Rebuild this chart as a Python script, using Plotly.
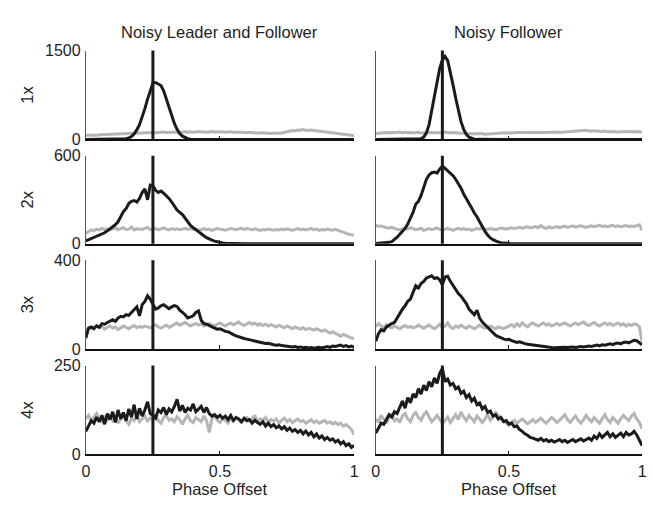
import plotly.graph_objects as go

phase = [i / 100 for i in range(101)]
col_titles = ["Noisy Leader and Follower", "Noisy Follower"]
row_labels = ["1x", "2x", "3x", "4x"]
y_max = [1500, 600, 400, 250]
x_ticks = [0, 0.5, 1]
x_tick_text = ["0", "0.5", "1"]
marker_phase = [0.25]
x_title = "Phase Offset"

# ---- Row 1 (1x) ----
lf1_black = [0]*13 + [2, 6, 12, 25, 50, 95, 160, 250, 370, 520, 680, 820, 950, 960, 930, 910, 820, 680,
                      540, 400, 270, 170, 100, 55, 28, 12, 5, 2] + [0]*60
lf1_gray = [70, 65, 72, 75, 70, 78, 80, 76, 85, 82, 90,
            88, 95, 92, 100, 96, 105, 100, 98, 110, 105,
            112, 108, 115, 110, 118, 112, 120, 115, 125, 118,
            122, 128, 120, 126, 118, 124, 130, 122, 128, 120,
            126, 132, 125, 130, 122, 128, 135, 126, 130, 124,
            128, 122, 126, 130, 120, 124, 118, 122, 115, 118,
            112, 118, 110, 115, 108, 112, 105, 110, 102, 108,
            100, 105, 110, 118, 125, 140, 150, 145, 160, 155,
            165, 150, 160, 158, 150, 145, 140, 135, 130, 125,
            120, 118, 112, 108, 100, 95, 88, 80, 72, 62, 50]
f1_black = [0]*17 + [10, 40, 110, 250, 480, 750, 1000, 1200, 1340, 1400, 1330, 1150, 920, 700, 480,
                     300, 170, 85, 38, 15, 5, 1] + [0]*62
f1_gray = [100, 105, 98, 110, 115, 108, 120, 112, 118, 125, 115,
           120, 112, 118, 110, 115, 120, 108, 112, 118, 122,
           115, 110, 118, 112, 120, 125, 118, 110, 115, 108,
           112, 105, 110, 100, 95, 100, 92, 98, 90, 95,
           88, 92, 98, 95, 100, 105, 102, 108, 112, 110,
           115, 112, 118, 115, 120, 118, 115, 120, 118, 122,
           118, 125, 120, 115, 118, 122, 120, 125, 118, 122,
           128, 125, 130, 135, 132, 140, 145, 150, 155, 148,
           140, 145, 138, 142, 135, 140, 130, 135, 128, 132,
           125, 130, 135, 128, 132, 125, 130, 135, 128, 120, 95]

# ---- Row 2 (2x) ----
lf2_black = [20, 28, 35, 42, 50, 58, 68, 75, 88, 100,
             118, 130, 150, 185, 220, 240, 275, 290, 295, 285,
             310, 350, 375, 300, 400, 395, 365, 350, 360, 345,
             330, 310, 285, 260, 230, 215, 200, 175, 150, 125,
             110, 95, 80, 65, 55, 42, 32, 25, 18, 12,
             8, 5, 3, 2] + [1]*47
lf2_gray = [70, 85, 95, 90, 100, 95, 105, 98, 102, 95,
            100, 108, 96, 104, 110, 98, 100, 115, 95, 102,
            100, 98, 105, 112, 96, 100, 104, 95, 102, 108,
            100, 95, 104, 98, 102, 96, 100, 106, 98, 104,
            96, 100, 92, 98, 104, 96, 100, 92, 98, 104,
            100, 96, 92, 98, 104, 100, 96, 102, 106, 98,
            104, 100, 96, 102, 98, 92, 98, 94, 100, 96,
            92, 98, 94, 100, 96, 102, 96, 92, 98, 104,
            96, 100, 94, 98, 104, 96, 100, 92, 98, 94,
            100, 96, 92, 98, 90, 85, 80, 72, 65, 62, 60]
f2_black = [2, 3, 4, 5, 7, 10, 15, 28, 45, 65,
            85, 105, 135, 170, 215, 270, 290, 330, 390, 440,
            470, 485, 490, 482, 510, 530, 515, 500, 485, 465,
            440, 410, 380, 340, 310, 280, 245, 210, 185, 150,
            115, 85, 60, 40, 28, 18, 12, 8, 5, 3,
            2] + [1]*50
f2_gray = [125, 120, 122, 115, 110, 108, 112, 105, 100, 95,
           102, 108, 100, 110, 104, 96, 100, 106, 92, 98,
           104, 96, 100, 108, 98, 94, 100, 104, 98, 92,
           100, 106, 98, 104, 96, 100, 92, 98, 104, 100,
           108, 102, 98, 104, 100, 96, 102, 108, 104, 100,
           106, 110, 104, 108, 112, 106, 110, 116, 108, 112,
           118, 110, 124, 112, 104, 116, 108, 112, 118, 110,
           114, 120, 112, 116, 122, 114, 118, 124, 116, 112,
           118, 122, 116, 120, 126, 118, 122, 116, 120, 126,
           118, 122, 116, 120, 124, 118, 122, 118, 124, 130, 90]

# ---- Row 3 (3x) ----
lf3_black = [50, 95, 100, 92, 105, 98, 115, 112, 120, 128,
             132, 125, 140, 148, 145, 155, 152, 165, 178, 190,
             150, 200, 215, 240, 225, 200, 180, 185, 195, 200,
             190, 182, 190, 196, 192, 175, 165, 155, 140, 145,
             150, 165, 172, 130, 115, 112, 105, 100, 95, 90,
             92, 85, 80, 78, 70, 65, 60, 55, 52, 48,
             45, 42, 38, 35, 32, 30, 28, 25, 26, 22,
             20, 18, 20, 16, 14, 15, 12, 10, 12, 8,
             10, 6, 8, 5, 7, 4, 6, 8, 5, 10,
             12, 8, 14, 12, 15, 18, 12, 16, 10, 14, 8]
lf3_gray = [80, 95, 92, 100, 105, 96, 102, 90, 98, 104,
            95, 100, 88, 96, 104, 98, 92, 100, 106, 96,
            102, 98, 104, 100, 96, 104, 110, 100, 95, 102,
            108, 98, 104, 112, 118, 108, 114, 120, 112, 104,
            110, 116, 108, 114, 104, 110, 116, 108, 104, 112,
            118, 110, 104, 112, 118, 110, 116, 122, 112, 106,
            114, 120, 112, 118, 108, 114, 106, 112, 104, 110,
            106, 100, 108, 102, 96, 104, 98, 92, 100, 94,
            90, 96, 88, 94, 90, 86, 92, 84, 80, 86,
            78, 72, 78, 70, 62, 58, 66, 60, 55, 50, 48]
f3_black = [35, 70, 88, 82, 100, 108, 115, 120, 140, 165,
            180, 195, 215, 225, 260, 285, 275, 295, 305, 320,
            325, 330, 318, 322, 312, 290, 325, 328, 305, 285,
            270, 250, 238, 220, 205, 180, 165, 155, 175, 140,
            122, 110, 95, 85, 72, 62, 56, 50, 46, 42,
            44, 38, 35, 30, 33, 28, 25, 22, 20, 18,
            16, 14, 12, 10, 9, 8, 7, 6, 7, 8,
            6, 8, 7, 9, 10, 8, 11, 12, 10, 13,
            14, 12, 16, 18, 15, 20, 18, 22, 24, 20,
            26, 28, 24, 30, 32, 28, 35, 40, 38, 30, 20]
f3_gray = [100, 115, 105, 95, 110, 100, 96, 104, 98, 92,
           100, 106, 98, 102, 96, 100, 108, 100, 94, 102,
           108, 98, 92, 100, 112, 96, 104, 118, 100, 92,
           104, 98, 108, 100, 94, 104, 98, 92, 100, 108,
           100, 94, 98, 104, 98, 92, 100, 96, 92, 98,
           104, 110, 100, 115, 104, 118, 108, 100, 112, 118,
           110, 104, 112, 118, 108, 114, 104, 110, 116, 108,
           112, 118, 110, 104, 112, 118, 110, 116, 122, 112,
           106, 114, 120, 110, 104, 112, 118, 110, 116, 106,
           112, 118, 108, 114, 104, 112, 106, 114, 110, 100, 35]

# ---- Row 4 (4x) ----
lf4_black = [65, 80, 95, 88, 105, 92, 110, 85, 115, 98,
             120, 90, 125, 100, 118, 95, 128, 105, 140, 100,
             130, 108, 125, 148, 115, 110, 102, 125, 118, 132,
             112, 128, 120, 135, 155, 122, 138, 118, 130, 125,
             142, 120, 128, 135, 118, 132, 115, 108, 112, 104,
             110, 102, 108, 98, 110, 96, 104, 100, 92, 102,
             95, 98, 88, 96, 90, 85, 92, 80, 88, 78,
             84, 75, 80, 72, 78, 68, 74, 65, 70, 62,
             68, 58, 66, 55, 62, 50, 58, 46, 52, 42,
             48, 40, 44, 35, 40, 30, 36, 25, 30, 20, 25]
lf4_gray = [100, 110, 95, 105, 115, 100, 90, 108, 98, 112,
            95, 105, 88, 100, 112, 95, 85, 102, 96, 110,
            92, 100, 108, 94, 102, 98, 112, 95, 88, 104,
            110, 96, 100, 92, 106, 98, 85, 100, 110, 95,
            90, 104, 98, 92, 108, 95, 62, 100, 112, 96,
            90, 102, 96, 88, 100, 94, 104, 96, 90, 98,
            104, 95, 100, 110, 92, 100, 96, 104, 90, 98,
            94, 100, 88, 96, 102, 92, 98, 90, 96, 100,
            92, 96, 88, 94, 98, 90, 94, 88, 92, 96,
            88, 92, 86, 90, 84, 88, 80, 84, 78, 70, 55]
f4_black = [60, 75, 88, 85, 100, 112, 105, 120, 115, 135,
            150, 130, 160, 145, 170, 160, 185, 170, 195, 180,
            205, 190, 215, 200, 228, 242, 205, 212, 195, 200,
            185, 190, 172, 178, 160, 168, 150, 158, 140, 145,
            128, 135, 118, 122, 108, 112, 100, 104, 92, 95,
            85, 88, 78, 80, 70, 65, 58, 54, 48, 46,
            42, 40, 45, 38, 42, 36, 40, 35, 38, 42,
            36, 40, 34, 38, 42, 36, 40, 44, 38, 42,
            46, 40, 52, 45, 58, 48, 55, 62, 50, 58,
            48, 55, 60, 50, 62, 55, 58, 65, 55, 40, 25]
f4_gray = [100, 90, 110, 98, 88, 105, 112, 95, 100, 90,
           108, 115, 100, 92, 110, 118, 104, 96, 112, 120,
           105, 92, 100, 110, 98, 88, 95, 105, 90, 100,
           112, 98, 120, 105, 95, 110, 100, 92, 108, 98,
           90, 100, 112, 96, 104, 118, 110, 100, 95, 88,
           82, 90, 96, 88, 94, 100, 92, 86, 92, 98,
           90, 96, 102, 94, 88, 96, 104, 98, 90, 96,
           104, 112, 98, 90, 100, 108, 96, 88, 98, 110,
           100, 92, 104, 96, 88, 100, 112, 98, 90, 104,
           96, 88, 100, 110, 102, 95, 108, 115, 100, 90, 72]

panels = [
    (lf1_black, lf1_gray), (f1_black, f1_gray),
    (lf2_black, lf2_gray), (f2_black, f2_gray),
    (lf3_black, lf3_gray), (f3_black, f3_gray),
    (lf4_black, lf4_gray), (f4_black, f4_gray),
]

W, H = 653, 506
col_px = [(83, 355), (377, 647)]
row_px = [(44, 136), (153, 244), (261, 353), (370, 462)]

BLACK = "#1b1b1b"
GRAY = "#b5b5b5"
FONT = "Liberation Sans, Arial, Helvetica, sans-serif"
TXT = "#1e1e1e"

fig = go.Figure()
layout = dict(
    width=W, height=H, margin=dict(l=0, r=0, t=0, b=0),
    paper_bgcolor="white", plot_bgcolor="white", showlegend=False,
    font=dict(family=FONT, size=16, color=TXT),
)
shapes = []
annotations = []

for k, (blk, gry) in enumerate(panels):
    r, c = divmod(k, 2)
    xid = "x" if k == 0 else f"x{k+1}"
    yid = "y" if k == 0 else f"y{k+1}"
    xkey = "xaxis" if k == 0 else f"xaxis{k+1}"
    ykey = "yaxis" if k == 0 else f"yaxis{k+1}"
    fig.add_trace(go.Scatter(x=phase, y=gry, mode="lines", line=dict(color=GRAY, width=3),
                             xaxis=xid, yaxis=yid, hoverinfo="skip"))
    fig.add_trace(go.Scatter(x=phase, y=blk, mode="lines", line=dict(color=BLACK, width=3),
                             xaxis=xid, yaxis=yid, hoverinfo="skip"))
    x0, x1 = col_px[c]
    t0, t1 = row_px[r]
    layout[xkey] = dict(
        domain=[x0 / W, x1 / W], range=[0, 1], anchor=yid,
        showline=True, linecolor="#111", linewidth=1.5, mirror=False,
        ticks="inside", ticklen=4, tickcolor="#111", tickvals=x_ticks, ticktext=x_tick_text,
        showticklabels=(r == 3), showgrid=False, zeroline=False,
        tickfont=dict(size=16, family=FONT, color=TXT), ticklabelstandoff=2,
    )
    layout[ykey] = dict(
        domain=[1 - t1 / H, 1 - t0 / H], range=[0, y_max[r]], anchor=xid,
        showline=True, linecolor="#555", linewidth=1, mirror=False,
        ticks="inside", ticklen=4, tickcolor="#555", tickvals=[0, y_max[r]],
        showticklabels=(c == 0), showgrid=False, zeroline=False,
        tickfont=dict(size=16, family=FONT, color=TXT), ticklabelstandoff=1,
    )
    for mp in marker_phase:
        shapes.append(dict(type="line", xref=xid, yref=f"{yid} domain", x0=mp, x1=mp, y0=0, y1=1,
                           line=dict(color=BLACK, width=3)))
    if r == 0:
        annotations.append(dict(text=col_titles[c], xref="paper", yref="paper",
                                x=(x0 + x1) / 2 / W, y=1 - 25 / H, showarrow=False,
                                xanchor="center", yanchor="middle",
                                font=dict(size=16.5, family=FONT, color=TXT)))
    if r == 3:
        annotations.append(dict(text=x_title, xref="paper", yref="paper",
                                x=(x0 + x1) / 2 / W, y=1 - 498 / H, showarrow=False,
                                xanchor="center", yanchor="middle",
                                font=dict(size=16.5, family=FONT, color=TXT)))
    if c == 0:
        annotations.append(dict(text=row_labels[r], xref="paper", yref="paper",
                                x=23 / W, y=1 - (t0 + t1) / 2 / H, showarrow=False, textangle=-90,
                                xanchor="center", yanchor="middle",
                                font=dict(size=16.5, family=FONT, color=TXT)))

layout["shapes"] = shapes
layout["annotations"] = annotations
fig.update_layout(**layout)
fig.write_html("out.html")
